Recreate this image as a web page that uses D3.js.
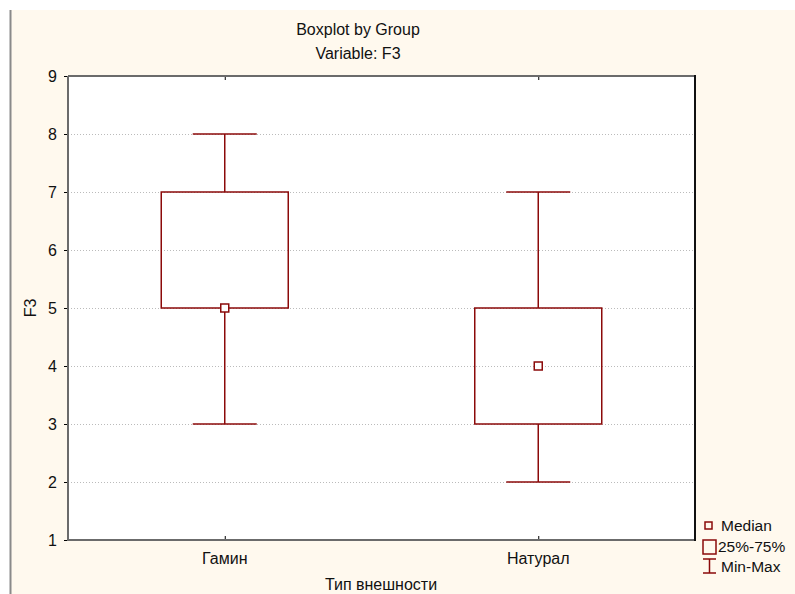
<!DOCTYPE html>
<html>
<head>
<meta charset="utf-8">
<script src="https://cdn.jsdelivr.net/npm/d3@7"></script>
<style>
  body { margin: 0; background: #fff; }
  text { font-family: "Liberation Sans", Arial, sans-serif; fill: #111; }
</style>
</head>
<body>
<div id="chart"></div>
<script>
const groups = ["Гамин", "Натурал"];
const mins = [3, 2];
const q1s = [5, 3];
const medians = [5, 4];
const q3s = [7, 5];
const maxs = [8, 7];
const yTicks = [1, 2, 3, 4, 5, 6, 7, 8, 9];

const W = 795, H = 594;
const plot = { left: 68, right: 695, top: 76, bottom: 540 };
const boxColor = "#8b0a0a";
const fs = "16px";

const svg = d3.select("#chart").append("svg")
  .attr("width", W).attr("height", H);

// panel background
svg.append("rect").attr("x", 11).attr("y", 10).attr("width", W - 11).attr("height", H - 10)
  .attr("fill", "#fff9ee");
svg.append("line").attr("x1", 10.5).attr("x2", 10.5).attr("y1", 10).attr("y2", H)
  .attr("stroke", "#8a8a8a").attr("stroke-width", 2);

const x = d3.scalePoint().domain(groups).range([plot.left, plot.right]).padding(0.5);
const y = d3.scaleLinear().domain([1, 9]).range([plot.bottom, plot.top]);

svg.append("rect").attr("x", plot.left).attr("y", plot.top)
  .attr("width", plot.right - plot.left).attr("height", plot.bottom - plot.top)
  .attr("fill", "#fff");

// grid
svg.append("g").selectAll("line").data(yTicks.slice(1, -1)).join("line")
  .attr("x1", plot.left).attr("x2", plot.right)
  .attr("y1", d => y(d) + 0.5).attr("y2", d => y(d) + 0.5)
  .attr("stroke", "#bbb").attr("stroke-dasharray", "1,2");

// y axis
const yAxis = d3.axisLeft(y).tickValues(yTicks).tickSize(4).tickPadding(7);
const gy = svg.append("g").attr("transform", `translate(${plot.left},0)`).call(yAxis);
gy.select(".domain").remove();
gy.selectAll("line").attr("stroke", "#000");
gy.selectAll("text").style("font-size", fs).attr("dy", "0.35em");

// x axis ticks (inward, top and bottom)
const xAxisB = d3.axisTop(x).tickSize(4).tickFormat("");
svg.append("g").attr("transform", `translate(0,${plot.bottom})`).call(xAxisB)
  .call(g => g.select(".domain").remove());
const xAxisT = d3.axisBottom(x).tickSize(4).tickFormat("");
svg.append("g").attr("transform", `translate(0,${plot.top})`).call(xAxisT)
  .call(g => g.select(".domain").remove());
svg.append("g").selectAll("text").data(groups).join("text")
  .attr("x", d => x(d)).attr("y", plot.bottom + 24)
  .attr("text-anchor", "middle").style("font-size", fs).text(d => d);

// frame
svg.append("path")
  .attr("d", `M${plot.left},${plot.top}H${plot.right}M${plot.left},${plot.top}V${plot.bottom}H${plot.right}`)
  .attr("stroke", "#6b6b6b").attr("stroke-width", 2).attr("fill", "none");
svg.append("line").attr("x1", plot.right).attr("x2", plot.right)
  .attr("y1", plot.top - 1).attr("y2", plot.bottom + 1)
  .attr("stroke", "#111").attr("stroke-width", 2);

// boxes
const boxW = 127, capW = 64, medS = 8;
const data = groups.map((g, i) => ({ g, min: mins[i], q1: q1s[i], med: medians[i], q3: q3s[i], max: maxs[i] }));
const bx = svg.append("g").selectAll("g").data(data).join("g")
  .attr("stroke", boxColor).attr("stroke-width", 1.5).attr("fill", "none");
bx.append("line").attr("x1", d => x(d.g)).attr("x2", d => x(d.g))
  .attr("y1", d => y(d.max)).attr("y2", d => y(d.q3));
bx.append("line").attr("x1", d => x(d.g)).attr("x2", d => x(d.g))
  .attr("y1", d => y(d.q1)).attr("y2", d => y(d.min));
bx.append("line").attr("x1", d => x(d.g) - capW / 2).attr("x2", d => x(d.g) + capW / 2)
  .attr("y1", d => y(d.max)).attr("y2", d => y(d.max));
bx.append("line").attr("x1", d => x(d.g) - capW / 2).attr("x2", d => x(d.g) + capW / 2)
  .attr("y1", d => y(d.min)).attr("y2", d => y(d.min));
bx.append("rect").attr("x", d => x(d.g) - boxW / 2).attr("y", d => y(d.q3))
  .attr("width", boxW).attr("height", d => y(d.q1) - y(d.q3));
bx.append("rect").attr("x", d => x(d.g) - medS / 2).attr("y", d => y(d.med) - medS / 2)
  .attr("width", medS).attr("height", medS).attr("fill", "#fff");

// titles
svg.append("text").attr("x", 358).attr("y", 35).attr("text-anchor", "middle")
  .style("font-size", fs).text("Boxplot by Group");
svg.append("text").attr("x", 358).attr("y", 59).attr("text-anchor", "middle")
  .style("font-size", fs).text("Variable: F3");
svg.append("text").attr("x", 381).attr("y", 590).attr("text-anchor", "middle")
  .style("font-size", fs).text("Тип внешности");
svg.append("text").attr("transform", `translate(36,308) rotate(-90)`)
  .attr("text-anchor", "middle").style("font-size", fs).text("F3");

// legend
const lg = svg.append("g").attr("stroke", boxColor).attr("stroke-width", 1.5).attr("fill", "none");
lg.append("rect").attr("x", 705).attr("y", 522).attr("width", 7).attr("height", 7);
lg.append("rect").attr("x", 703).attr("y", 540).attr("width", 13).attr("height", 14);
lg.append("path").attr("d", "M703,559H716M709.5,559V573M703,573H716");
const lt = svg.append("g").style("font-size", "15.5px");
lt.append("text").attr("x", 721).attr("y", 531).text("Median");
lt.append("text").attr("x", 718).attr("y", 552).text("25%-75%");
lt.append("text").attr("x", 721).attr("y", 572).text("Min-Max");
</script>
</body>
</html>
